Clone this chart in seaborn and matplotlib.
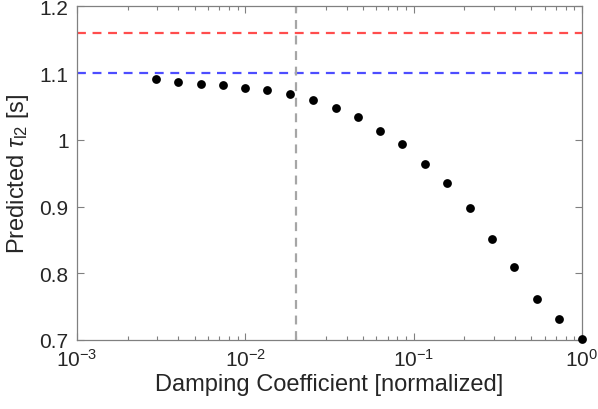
import numpy as np
import pandas as pd
import matplotlib
matplotlib.use("Agg")
import matplotlib.pyplot as plt
import matplotlib.ticker as mticker
import seaborn as sns

# ==========================================
# Data
# ==========================================
damping = [0.00294, 0.00398, 0.00546, 0.00736, 0.00995, 0.0135, 0.0185,
           0.0252, 0.0346, 0.0468, 0.0631, 0.0853, 0.117, 0.158, 0.216,
           0.292, 0.395, 0.541, 0.731, 1.0]
tau_pred = [1.091, 1.086, 1.083, 1.082, 1.078, 1.074, 1.069, 1.059, 1.048,
            1.034, 1.013, 0.994, 0.964, 0.936, 0.898, 0.851, 0.810, 0.762,
            0.732, 0.701]
red_level = 1.16
blue_level = 1.10
chosen_damping = 0.02

df = pd.DataFrame({"damping": damping, "tau": tau_pred})

# ==========================================
# Style
# ==========================================
sns.set_style("ticks")
plt.rcParams["font.family"] = ["Liberation Sans", "DejaVu Sans"]
plt.rcParams["mathtext.fontset"] = "custom"
plt.rcParams["mathtext.rm"] = "Liberation Sans"
plt.rcParams["mathtext.it"] = "Liberation Sans:italic"
plt.rcParams["mathtext.default"] = "rm"

text_col = "#262626"
axis_col = "#808080"

fig = plt.figure(figsize=(5.98, 4.10), dpi=100)
ax = fig.add_axes([0.1288, 0.1683, 0.8444, 0.8137])

ax.axhline(red_level, color="#ff4d4d", ls=(0, (4, 3)), lw=1.6, zorder=1)
ax.axhline(blue_level, color="#4d4dff", ls=(0, (4, 3)), lw=1.6, zorder=1)
ax.axvline(chosen_damping, color="#a6a6a6", ls=(0, (4, 3)), lw=1.6, zorder=1)

sns.scatterplot(data=df, x="damping", y="tau", ax=ax, color="black",
                s=40, edgecolor="black", linewidth=0, zorder=3, clip_on=False)

ax.set_xscale("log")
ax.set_xlim(1e-3, 1e0)
ax.set_ylim(0.7, 1.2)
ax.set_yticks([0.7, 0.8, 0.9, 1.0, 1.1, 1.2])
ax.yaxis.set_major_formatter(mticker.FuncFormatter(lambda v, p: f"{v:g}"))
ax.xaxis.set_minor_locator(mticker.LogLocator(base=10, subs=np.arange(2, 10)))
ax.xaxis.set_minor_formatter(mticker.NullFormatter())

for sp in ax.spines.values():
    sp.set_color(axis_col)
    sp.set_linewidth(0.9)
    sp.set_visible(True)

ax.tick_params(which="both", direction="in", top=True, right=True,
               color=axis_col, labelcolor=text_col, labelsize=15, width=0.8)
ax.tick_params(which="major", length=5, pad=6)
ax.tick_params(which="minor", length=3)

ax.set_xlabel("Damping Coefficient [normalized]", fontsize=17, color=text_col, labelpad=2)
ax.set_ylabel(r"Predicted $\mathit{\tau}_{\mathrm{l2}}$ [s]", fontsize=17, color=text_col, labelpad=6)

fig.savefig("out.png", dpi=100)
